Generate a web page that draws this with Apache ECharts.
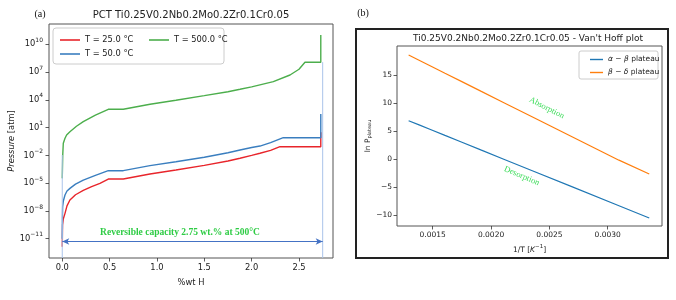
<!DOCTYPE html>
<html><head><meta charset="utf-8">
<script src="https://cdn.jsdelivr.net/npm/echarts@6/dist/echarts.min.js"></script>
<style>html,body{margin:0;padding:0;background:#fff}#c{width:676px;height:300px}</style>
</head><body><div id="c"></div>
<script>
// ---------- Panel (a): PCT curves, x = %wt H, y = log10(Pressure [atm]) ----------
const redX = [0, 0.003, 0.01, 0.029, 0.05, 0.081, 0.14, 0.222, 0.31, 0.398, 0.486, 0.644, 0.926, 1.2, 1.5, 1.75, 1.877, 2.0, 2.088, 2.2, 2.299, 2.73, 2.73];
const redY = [-11.86, -9.5, -8.9, -8.26, -7.45, -6.82, -6.25, -5.78, -5.38, -5.02, -4.55, -4.55, -4.01, -3.58, -3.08, -2.6, -2.31, -2.0, -1.77, -1.45, -1.06, -1.06, 0.5];
const blueX = [0, 0.002, 0.004, 0.012, 0.029, 0.05, 0.081, 0.14, 0.222, 0.35, 0.486, 0.644, 0.926, 1.2, 1.5, 1.75, 1.877, 2.0, 2.088, 2.2, 2.334, 2.73, 2.73];
const blueY = [-11.0, -8.6, -7.54, -6.9, -6.28, -5.85, -5.56, -5.1, -4.66, -4.15, -3.65, -3.65, -3.11, -2.68, -2.2, -1.72, -1.42, -1.15, -0.99, -0.62, -0.09, -0.09, 2.47];
const greenX = [0, 0.005, 0.011, 0.029, 0.046, 0.081, 0.15, 0.222, 0.35, 0.486, 0.644, 0.927, 1.2, 1.5, 1.75, 1.877, 2.0, 2.229, 2.405, 2.5, 2.563, 2.73, 2.73];
const greenY = [-4.48, -2.0, -0.69, -0.15, 0.21, 0.56, 1.15, 1.64, 2.35, 2.98, 2.98, 3.52, 3.95, 4.45, 4.88, 5.14, 5.4, 5.96, 6.68, 7.3, 8.06, 8.06, 11.0];
const pctNames = ['T = 25.0 °C', 'T = 50.0 °C', 'T = 500.0 °C'];
const pctXTicks = [0, 0.5, 1.0, 1.5, 2.0, 2.5];
const pctYTicks = [-11, -8, -5, -2, 1, 4, 7, 10];
const pctXRange = [-0.140, 2.859];
const pctYRange = [-13.08, 12.19];
// capacity annotation (data units)
const capStartX = [0, 0];
const capStartY = [-1.96, -13.08];
const capEndX = [2.75, 2.75];
const capEndY = [8.07, -13.08];
const capArrow = [0, 2.75, -11.3];          // x0, x1, y
const capText = 'Reversible capacity 2.75 wt.% at 500°C';
const capTextAt = [1.243, -10.33];

// ---------- Panel (b): Van't Hoff plot ----------
const invT = [0.0012937, 0.0013831, 0.0014859, 0.0016051, 0.0017452, 0.0019120, 0.0021142, 0.0023641, 0.0026810, 0.0030960, 0.0033557];
const lnAlphaBeta = [6.86, 6.11, 5.25, 4.24, 3.07, 1.66, -0.04, -2.14, -4.80, -8.29, -10.47];
const lnBetaDelta = [18.56, 17.63, 16.56, 15.32, 13.87, 12.13, 10.03, 7.44, 4.14, -0.17, -2.64];
const vhNames = ['α − β plateau', 'β − δ plateau'];
const vhXTicks = [0.0015, 0.0020, 0.0025, 0.0030];
const vhYTicks = [-10, -5, 0, 5, 10, 15];
const vhXRange = [0.001194, 0.003465];
const vhYRange = [-11.9, 20.17];
const absorptionAt = [0.002477, 9.12];
const desorptionAt = [0.002263, -3.0];

const FONT = 'DejaVu Sans';
const SERIF = 'Liberation Serif';
const TXT = '#222';
const pair = (xs, ys) => xs.map((x, i) => [x, ys[i]]);
const minus = v => (v < 0 ? '\u2212' : '') + Math.abs(v);

const chart = echarts.init(document.getElementById('c'), null, {renderer: 'canvas'});

const tickStyle = {length: 3.5, lineStyle: {color: '#333', width: 0.8}};
const gridStyle = {show: true, borderColor: '#555', borderWidth: 1, backgroundColor: 'transparent'};
const noLine = {show: false, onZero: false};

const option = {
  animation: false,
  backgroundColor: '#fff',
  grid: [
    Object.assign({left: 49, top: 24, width: 284, height: 234}, gridStyle),
    Object.assign({left: 397, top: 46, width: 265, height: 180}, gridStyle)
  ],
  xAxis: [
    {
      type: 'value', gridIndex: 0, min: pctXRange[0], max: pctXRange[1],
      axisLine: noLine, splitLine: {show: false},
      axisTick: Object.assign({customValues: pctXTicks}, tickStyle),
      axisLabel: {customValues: pctXTicks, formatter: v => v.toFixed(1), fontSize: 8.3, fontFamily: FONT, color: TXT, margin: 6},
      name: '%wt H', nameLocation: 'middle', nameGap: 21,
      nameTextStyle: {fontSize: 8.3, fontFamily: FONT, color: TXT}
    },
    {
      type: 'value', gridIndex: 1, min: vhXRange[0], max: vhXRange[1],
      axisLine: noLine, splitLine: {show: false},
      axisTick: Object.assign({customValues: vhXTicks}, tickStyle),
      axisLabel: {customValues: vhXTicks, formatter: v => v.toFixed(4), fontSize: 7.5, fontFamily: FONT, color: TXT, margin: 5},
      name: '1/T [{i|K}{s|\u22121}]', nameLocation: 'middle', nameGap: 17,
      nameTextStyle: {fontSize: 7.5, fontFamily: FONT, color: TXT,
        rich: {i: {fontSize: 7.5, fontStyle: 'italic', fontFamily: FONT, color: TXT, lineHeight: 12},
               s: {fontSize: 5.5, fontFamily: FONT, color: TXT, verticalAlign: 'top', lineHeight: 7}}}
    }
  ],
  yAxis: [
    {
      type: 'value', gridIndex: 0, min: pctYRange[0], max: pctYRange[1],
      axisLine: noLine, splitLine: {show: false},
      axisTick: Object.assign({customValues: pctYTicks}, tickStyle),
      axisLabel: {customValues: pctYTicks, margin: 6,
        formatter: v => '{b|10}{s|' + minus(Math.round(v)) + '}',
        rich: {b: {fontSize: 8.3, fontFamily: FONT, color: TXT, lineHeight: 14},
               s: {fontSize: 6, fontFamily: FONT, color: TXT, verticalAlign: 'top', lineHeight: 8}}},
      name: '{i|Pressure} [atm]', nameLocation: 'middle', nameGap: 32, nameRotate: 90,
      nameTextStyle: {fontSize: 8.3, fontFamily: FONT, color: TXT,
        rich: {i: {fontSize: 8.3, fontStyle: 'italic', fontFamily: FONT, color: TXT}}}
    },
    {
      type: 'value', gridIndex: 1, min: vhYRange[0], max: vhYRange[1],
      axisLine: noLine, splitLine: {show: false},
      axisTick: Object.assign({customValues: vhYTicks}, tickStyle),
      axisLabel: {customValues: vhYTicks, formatter: v => minus(v), fontSize: 7.5, fontFamily: FONT, color: TXT, margin: 5},
      name: 'ln P{sub|plateau}', nameLocation: 'middle', nameGap: 21, nameRotate: 90,
      nameTextStyle: {fontSize: 7.5, fontFamily: FONT, color: TXT,
        rich: {sub: {fontSize: 5, fontFamily: FONT, color: TXT, verticalAlign: 'bottom', lineHeight: 6}}}
    }
  ],
  legend: [
    {data: [pctNames[0], pctNames[1]], orient: 'vertical', left: 55, top: 30, icon: 'rect', itemWidth: 20, itemHeight: 1.6, itemGap: 4,
     textStyle: {fontSize: 8.3, fontFamily: FONT, color: TXT, lineHeight: 10}},
    {data: [pctNames[2]], orient: 'vertical', left: 144, top: 30, icon: 'rect', itemWidth: 20, itemHeight: 1.6, itemGap: 4,
     textStyle: {fontSize: 8.3, fontFamily: FONT, color: TXT, lineHeight: 10}},
    {data: vhNames, orient: 'vertical', left: 585, top: 50, icon: 'rect', itemWidth: 13, itemHeight: 1.4, itemGap: 4,
     formatter: n => n === vhNames[0] ? '{i|α} − {i|β} plateau' : '{i|β} − {i|δ} plateau',
     textStyle: {fontSize: 7.5, fontFamily: FONT, color: TXT, lineHeight: 9,
       rich: {i: {fontSize: 7.5, fontStyle: 'italic', fontFamily: FONT, color: TXT, lineHeight: 9}}}}
  ],
  graphic: [
    {type: 'rect', shape: {x: 53, y: 28, width: 171, height: 36, r: 3}, style: {fill: 'rgba(255,255,255,0.8)', stroke: '#ccc', lineWidth: 1}, z: 1},
    {type: 'rect', shape: {x: 579, y: 51, width: 79, height: 28, r: 2}, style: {fill: 'rgba(255,255,255,0.8)', stroke: '#ccc', lineWidth: 1}, z: 1},
    {type: 'rect', shape: {x: 356, y: 29, width: 312, height: 229}, style: {fill: 'none', stroke: '#222', lineWidth: 2}, z: 1},
    {type: 'text', x: 40, y: 14, style: {text: '(a)', font: '10px "Liberation Serif"', fill: '#111', textAlign: 'center', textVerticalAlign: 'middle'}},
    {type: 'text', x: 363, y: 13, style: {text: '(b)', font: '10px "Liberation Serif"', fill: '#111', textAlign: 'center', textVerticalAlign: 'middle'}},
    {type: 'text', x: 191, y: 15, style: {text: 'PCT Ti0.25V0.2Nb0.2Mo0.2Zr0.1Cr0.05', font: '10px "DejaVu Sans"', fill: TXT, textAlign: 'center', textVerticalAlign: 'middle'}},
    {type: 'text', x: 528, y: 39, style: {text: "Ti0.25V0.2Nb0.2Mo0.2Zr0.1Cr0.05 - Van't Hoff plot", font: '9px "DejaVu Sans"', fill: TXT, textAlign: 'center', textVerticalAlign: 'middle'}}
  ],
  series: [
    {name: pctNames[0], type: 'line', xAxisIndex: 0, yAxisIndex: 0, data: pair(redX, redY), symbol: 'none', color: '#e8252b', lineStyle: {width: 1.4}, z: 3},
    {name: pctNames[1], type: 'line', xAxisIndex: 0, yAxisIndex: 0, data: pair(blueX, blueY), symbol: 'none', color: '#3a7ebf', lineStyle: {width: 1.4}, z: 3},
    {name: pctNames[2], type: 'line', xAxisIndex: 0, yAxisIndex: 0, data: pair(greenX, greenY), symbol: 'none', color: '#4cae4c', lineStyle: {width: 1.4}, z: 3},
    {name: 'capStart', type: 'line', xAxisIndex: 0, yAxisIndex: 0, data: pair(capStartX, capStartY), symbol: 'none', color: '#aac3ea', lineStyle: {width: 1}, z: 4},
    {name: 'capEnd', type: 'line', xAxisIndex: 0, yAxisIndex: 0, data: pair(capEndX, capEndY), symbol: 'none', color: '#aac3ea', lineStyle: {width: 1}, z: 4,
     markLine: {silent: true, symbol: ['arrow', 'arrow'], symbolSize: [5, 7], label: {show: false},
       lineStyle: {color: '#4472c4', width: 1, type: 'solid'},
       data: [[{coord: [capArrow[0], capArrow[2]]}, {coord: [capArrow[1], capArrow[2]]}]]},
     markPoint: {silent: true, symbol: 'circle', symbolSize: 0,
       label: {show: true, position: 'inside', formatter: capText, fontFamily: SERIF, fontWeight: 'bold', fontSize: 9.5, color: '#2fcc45'},
       data: [{coord: capTextAt}]}},
    {name: vhNames[0], type: 'line', xAxisIndex: 1, yAxisIndex: 1, data: pair(invT, lnAlphaBeta), symbol: 'none', color: '#1f77b4', lineStyle: {width: 1.2}, z: 3,
     markPoint: {silent: true, symbol: 'circle', symbolSize: 0,
       label: {show: true, position: 'inside', formatter: 'Desorption', fontFamily: SERIF, fontSize: 8.5, color: '#3ddc5a', rotate: -23},
       data: [{coord: desorptionAt}]}},
    {name: vhNames[1], type: 'line', xAxisIndex: 1, yAxisIndex: 1, data: pair(invT, lnBetaDelta), symbol: 'none', color: '#ff7f0e', lineStyle: {width: 1.2}, z: 3,
     markPoint: {silent: true, symbol: 'circle', symbolSize: 0,
       label: {show: true, position: 'inside', formatter: 'Absorption', fontFamily: SERIF, fontSize: 8.5, color: '#3ddc5a', rotate: -27},
       data: [{coord: absorptionAt}]}}
  ]
};
chart.setOption(option);
</script></body></html>
